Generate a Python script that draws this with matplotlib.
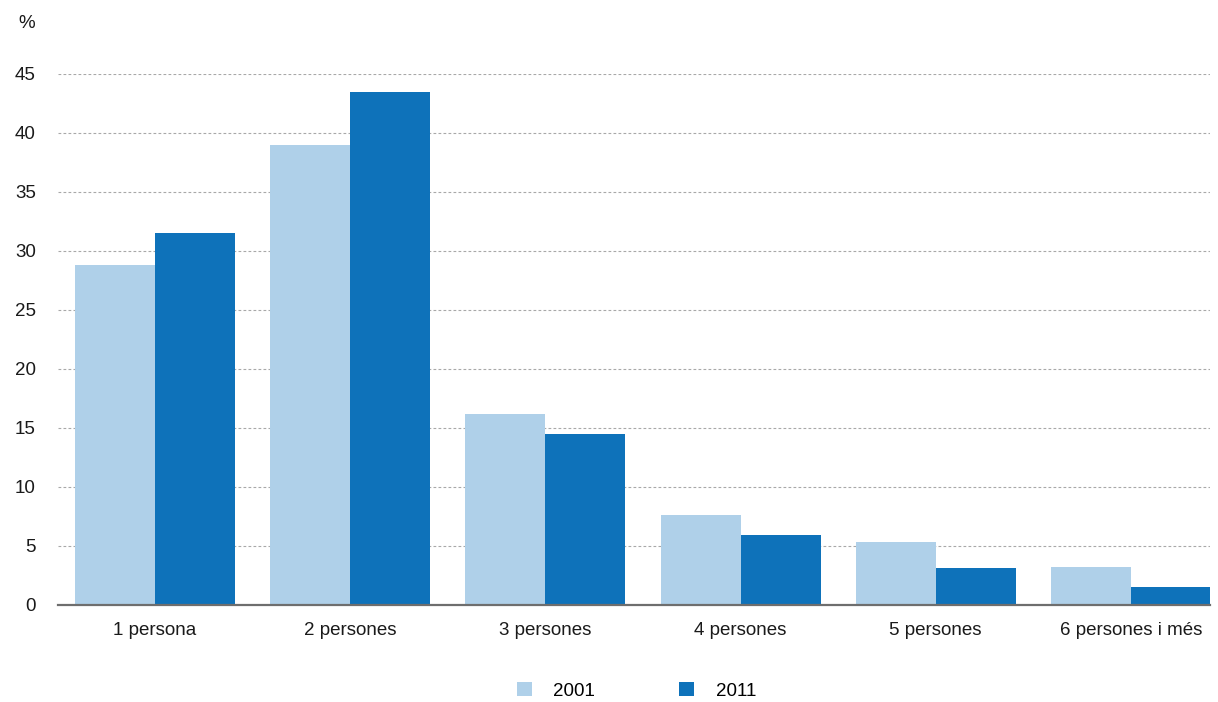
import matplotlib.pyplot as plt
import numpy as np

plt.rcParams['font.family'] = ['Liberation Sans', 'DejaVu Sans']

categories = ['1 persona', '2 persones', '3 persones', '4 persones',
              '5 persones', '6 persones i més']
v2001 = [28.8, 39.0, 16.2, 7.6, 5.3, 3.2]
v2011 = [31.5, 43.5, 14.5, 5.9, 3.1, 1.5]
years = ['2001', '2011']
yticks = [0, 5, 10, 15, 20, 25, 30, 35, 40, 45]

light = '#afd0e9'
dark = '#0e72ba'
fs = 13.5

fig = plt.figure(figsize=(12.18, 7.02), dpi=100)
ax = fig.add_axes([0.0476, 0.1382, 0.9458, 0.7564])

x = np.arange(len(categories))
w = 0.41
ax.bar(x - w / 2, v2001, w, color=light, label=years[0], zorder=2)
ax.bar(x + w / 2, v2011, w, color=dark, label=years[1], zorder=2)

ax.set_xlim(-0.497, 5.405)
ax.set_ylim(0, 45)
ax.set_yticks(yticks)
ax.set_xticks(x)
ax.set_xticklabels(categories)
ax.tick_params(axis='both', length=0, labelsize=fs, colors='#1a1a1a')
ax.tick_params(axis='y', pad=16)
ax.tick_params(axis='x', pad=12)

ax.yaxis.grid(True, linestyle=(0, (2.5, 2)), color='#a8a8a8', linewidth=0.8, zorder=0)
for s in ['top', 'right', 'left']:
    ax.spines[s].set_visible(False)
ax.spines['bottom'].set_color('#6e6e6e')
ax.spines['bottom'].set_linewidth(1.6)
ax.spines['bottom'].set_zorder(3)

fig.text(0.015, 0.966, '%', fontsize=fs, color='#1a1a1a', va='center')

fig.legend(loc='center', bbox_to_anchor=(0.5225, 0.016), ncol=2, frameon=False,
           fontsize=fs, handlelength=0.8, handleheight=0.8, handletextpad=1.15,
           columnspacing=4.5)

plt.savefig('out.png', dpi=100)
